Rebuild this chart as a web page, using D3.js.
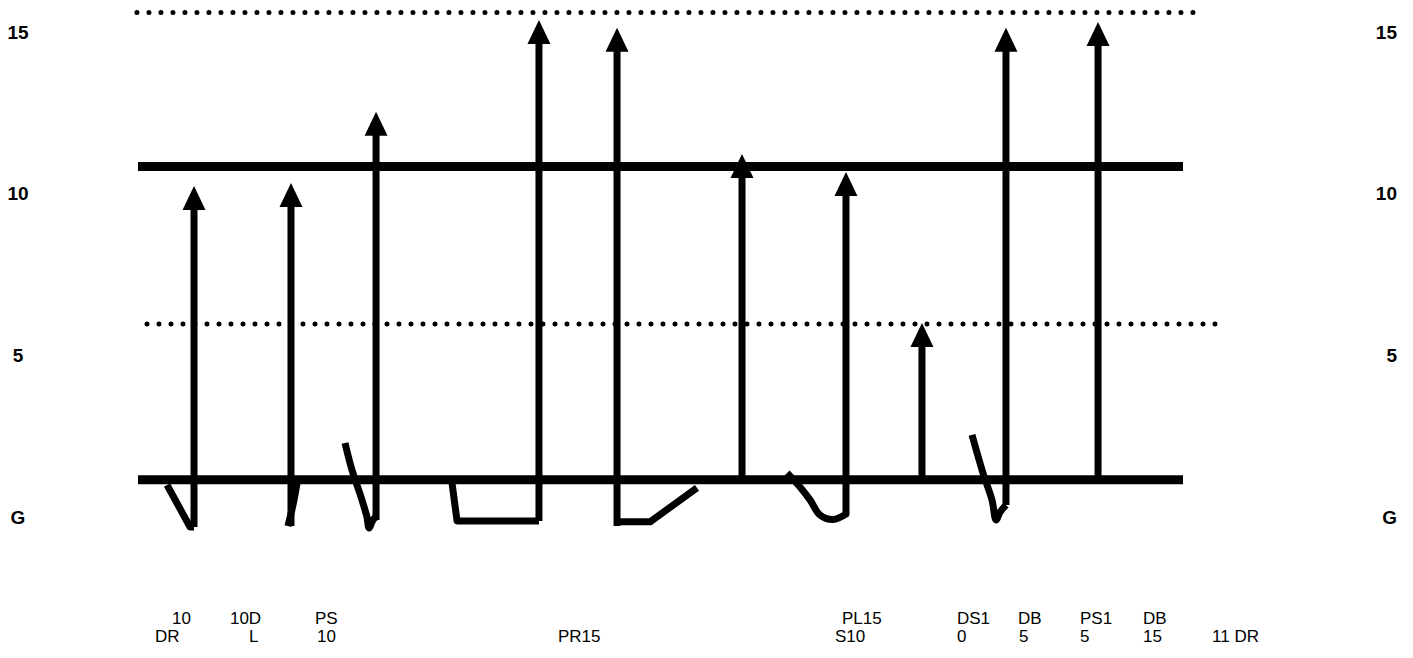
<!DOCTYPE html>
<html>
<head>
<meta charset="utf-8">
<script src="https://cdn.jsdelivr.net/npm/d3@7"></script>
<style>
  body { margin: 0; background: #fff; }
  svg { display: block; }
</style>
</head>
<body>
<svg id="chart" width="1413" height="658"></svg>
<script>
// level labels on both sides
const levelTicks = [0, 5, 10, 15];
const levelNames = ['G', '5', '10', '15'];

// horizontal reference lines (position along the count, level)
const solidLines = [
    { from: 0, to: 100, level: 1.15 },
    { from: 0, to: 100, level: 10.84 }
];
const dottedLines = [
    { from: -0.1, to: 101.6, level: 15.6 },
    { from: 0.86, to: 103.35, level: 5.97 }
];

// arrows: count position, where the stem starts, where the tip reaches
const arrowAt   = [5.36, 14.64, 22.78, 38.37, 45.84, 57.8, 67.75, 75.02, 83.06, 91.87];
const arrowFrom = [-0.31, -0.28, -0.09, -0.12, -0.28, 1.15, 0.06, 1.15, 0.37, 1.15];
const arrowTip  = [10.24, 10.33, 12.53, 15.37, 15.13, 11.23, 10.67, 6.0, 15.13, 15.31];

// marks drawn below the ground line (null = none)
const arrowHooks = [
    { curve: false, pts: [[2.78, 0.99], [4.98, -0.31], [5.36, -0.31]] },
    { curve: true,  pts: [[15.22, 1.05], [14.85, 0.4], [14.35, -0.28]] },
    { curve: true,  pts: [[19.81, 2.29], [20.48, 1.45], [21.34, 0.62], [21.91, 0.0], [22.11, -0.34], [22.49, -0.09], [22.87, 0.03]] },
    { curve: false, pts: [[30.05, 1.05], [30.53, -0.12], [38.37, -0.12]] },
    { curve: false, pts: [[45.84, -0.15], [49.0, -0.15], [53.49, 0.9]] },
    null,
    { curve: true,  pts: [[62.11, 1.36], [63.35, 0.93], [64.31, 0.53], [65.26, 0.06], [66.51, -0.08], [67.9, 0.12]] },
    null,
    { curve: true,  pts: [[79.81, 2.54], [80.86, 1.36], [81.72, 0.53], [82.11, -0.09], [82.49, 0.15], [83.06, 0.37]] },
    null
];

// bottom text, two rows
const topRowText = ['10', '10D', 'PS', 'PL15', 'DS1', 'DB', 'PS1', 'DB'];
const topRowAt   = [3.25, 8.8, 16.94, 67.37, 78.37, 84.21, 90.14, 96.17];
const lowRowText = ['DR', 'L', '10', 'PR15', 'S10', '0', '5', '5', '15', '11 DR'];
const lowRowAt   = [1.63, 10.62, 17.13, 40.19, 66.7, 78.37, 84.31, 90.14, 96.17, 102.78];

const svg = d3.select('#chart');

const x = d3.scaleLinear().domain([0, 100]).range([138, 1183]);
const y = d3.scaleLinear().domain([0, 15]).range([517, 32]);

// side labels
const sideFont = 'Liberation Sans, Arial, sans-serif';
svg.append('g').selectAll('text')
    .data(levelTicks)
    .join('text')
    .attr('x', 18)
    .attr('y', d => y(d))
    .attr('dy', '0.35em')
    .attr('text-anchor', 'middle')
    .attr('font-family', sideFont)
    .attr('font-weight', 'bold')
    .attr('font-size', 19)
    .text((d, i) => levelNames[i]);

svg.append('g').selectAll('text')
    .data(levelTicks)
    .join('text')
    .attr('x', 1397)
    .attr('y', d => y(d))
    .attr('dy', '0.35em')
    .attr('text-anchor', 'end')
    .attr('font-family', sideFont)
    .attr('font-weight', 'bold')
    .attr('font-size', 19)
    .text((d, i) => levelNames[i]);

// dotted lines
svg.append('g').selectAll('line')
    .data(dottedLines)
    .join('line')
    .attr('x1', d => x(d.from))
    .attr('x2', d => x(d.to))
    .attr('y1', d => y(d.level))
    .attr('y2', d => y(d.level))
    .attr('stroke', '#000')
    .attr('stroke-width', 5)
    .attr('stroke-linecap', 'round')
    .attr('stroke-dasharray', '0 12');

// solid lines
svg.append('g').selectAll('line')
    .data(solidLines)
    .join('line')
    .attr('x1', d => x(d.from))
    .attr('x2', d => x(d.to))
    .attr('y1', d => y(d.level))
    .attr('y2', d => y(d.level))
    .attr('stroke', '#000')
    .attr('stroke-width', 9);

// hooks under the ground
const hookLine = d3.line().x(d => x(d[0])).y(d => y(d[1]));
svg.append('g').selectAll('path')
    .data(arrowHooks.filter(h => h))
    .join('path')
    .attr('d', h => hookLine.curve(h.curve ? d3.curveCatmullRom : d3.curveLinear)(h.pts))
    .attr('fill', 'none')
    .attr('stroke', '#000')
    .attr('stroke-width', 7)
    .attr('stroke-linejoin', 'round');

// arrows
const HEAD_H = 24, HEAD_W = 23;
const arrows = arrowAt.map((at, i) => ({ at, from: arrowFrom[i], tip: arrowTip[i] }));
const ag = svg.append('g').selectAll('g')
    .data(arrows)
    .join('g');

ag.append('line')
    .attr('x1', d => x(d.at))
    .attr('x2', d => x(d.at))
    .attr('y1', d => y(d.from))
    .attr('y2', d => y(d.tip) + HEAD_H - 1)
    .attr('stroke', '#000')
    .attr('stroke-width', 7);

ag.append('path')
    .attr('d', d => {
        const cx = x(d.at), ty = y(d.tip);
        return `M${cx},${ty}L${cx + HEAD_W / 2},${ty + HEAD_H}L${cx - HEAD_W / 2},${ty + HEAD_H}Z`;
    })
    .attr('fill', '#000');

// bottom text
const textFont = 'Liberation Sans, Arial, sans-serif';
svg.append('g').selectAll('text')
    .data(topRowText)
    .join('text')
    .attr('x', (d, i) => x(topRowAt[i]))
    .attr('y', 624)
    .attr('font-family', textFont)
    .attr('font-size', 17)
    .text(d => d);

svg.append('g').selectAll('text')
    .data(lowRowText)
    .join('text')
    .attr('x', (d, i) => x(lowRowAt[i]))
    .attr('y', 642)
    .attr('font-family', textFont)
    .attr('font-size', 17)
    .text(d => d);
</script>
</body>
</html>
